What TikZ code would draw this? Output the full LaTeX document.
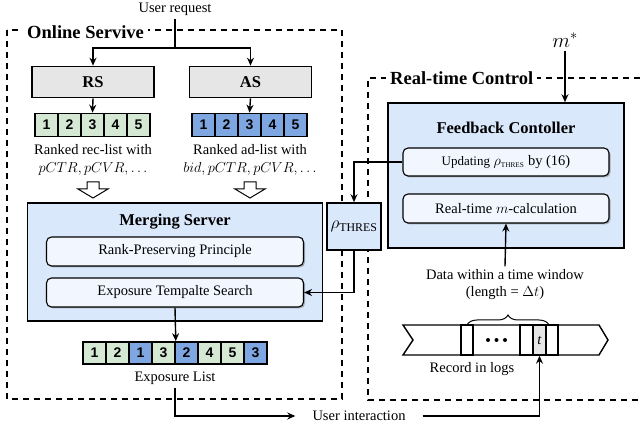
\documentclass[tikz,border=0pt]{standalone}
\usepackage{amsmath}
\usepackage{fontspec}
\setmainfont{Liberation Serif}
\setsansfont{Liberation Sans}
\usetikzlibrary{arrows.meta,positioning,calc,shadows,decorations.pathreplacing}
\definecolor{panelblue}{RGB}{218,232,252}
\definecolor{innerblue}{RGB}{242,247,255}
\definecolor{recgreen}{RGB}{213,232,212}
\definecolor{adblue}{RGB}{126,166,224}
\definecolor{servergray}{RGB}{230,230,230}

\tikzset{
  arr/.style={-{Stealth[length=8pt,width=7pt]}, line width=1.4pt},
  zoneline/.style={line width=1.3pt, dash pattern=on 6pt off 5pt},
  zonetitle/.style={fill=white, inner sep=4pt, font=\fontsize{18.5}{20}\selectfont\bfseries},
  server/.style={draw, line width=1.6pt, fill=servergray, minimum width=122pt, minimum height=31pt, font=\fontsize{16.5}{18}\selectfont\bfseries},
  panel/.style={draw, line width=1.6pt, fill=panelblue},
  subbox/.style={draw, line width=1.1pt, rounded corners=5pt, fill=innerblue, minimum width=257pt, minimum height=29pt, drop shadow={shadow xshift=1.5pt, shadow yshift=-1.5pt, fill=black!55}},
  cell/.style={draw, line width=1.6pt, minimum width=23pt, minimum height=23pt, inner sep=0pt, font=\fontsize{14}{16}\selectfont\sffamily\bfseries},
  boxtitle/.style={font=\fontsize{16.5}{18}\selectfont\bfseries},
}

\begin{document}
\begin{tikzpicture}[x=1pt, y=-1pt, font=\fontsize{14.5}{17}\selectfont]
    \useasboundingbox (0,0) rectangle (640,430);

    % Dashed zones
    \draw[zoneline] (7,30) rectangle (342,399);
    \draw[zoneline] (640,78) -- (368,78) -- (368,400) -- (640,400);
    \node[zonetitle, anchor=west] (ostitle) at (23,32) {Online Servive};
    \node[zonetitle, anchor=west] (rctitle) at (386,78) {Real-time Control};

    % Request and servers
    \node (req) at (175,9) {User request};
    \coordinate (split) at (175,48);
    \node[server] (rs) at (93,82) {RS};
    \node[server] (as) at (250.5,82) {AS};
    \draw[line width=1.4pt] (req.south) -- (split);
    \draw[arr] (split) -| (rs.north);
    \draw[arr] (split) -| (as.north);

    % Ranked lists
    \foreach \i in {1,...,5} {
        \node[cell, fill=recgreen] (r\i) at ({35+23*(\i-0.5)},125) {\i};
        \node[cell, fill=adblue] (a\i) at ({192+23*(\i-0.5)},125) {\i};
    }
    \draw[arr] (rs.south) -- (r3.north);
    \draw[arr] (as.south) -- (a3.north);
    \node[align=center] (reclbl) at (93,160) {Ranked rec-list with\\[1pt]$pCTR, pCVR, \ldots$};
    \node[align=center] (adlbl) at (250,160) {Ranked ad-list with\\[1pt]$bid, pCTR, pCVR, \ldots$};

    % Hollow merge arrows
    \foreach \x in {93,250}
        \draw[line width=1pt, fill=white] (\x-6,182) -- (\x+6,182) -- (\x+6,189) -- (\x+15,189)
            -- (\x,198) -- (\x-15,189) -- (\x-6,189) -- cycle;

    % Merging server
    \node[panel, minimum width=295pt, minimum height=118pt] (ms) at (175,262) {};
    \node[boxtitle] (mstitle) at (175,222) {Merging Server};
    \node[subbox] (rpp) at (175,251.5) {Rank-Preserving Principle};
    \node[subbox] (ets) at (175,292.5) {Exposure Tempalte Search};

    % Exposure list
    \foreach \v/\c [count=\i] in {1/recgreen,2/recgreen,1/adblue,3/recgreen,2/adblue,4/recgreen,5/recgreen,3/adblue}
        \node[cell, fill=\c, minimum height=22pt] (e\i) at ({83+23*(\i-0.5)},353) {\v};
    \draw[arr] (ets.south) -- (e4.north east);
    \node (exlbl) at (175,378) {Exposure List};
    \node[inner xsep=17pt] (uil) at (359,416) {User interaction};
    \draw[arr] (exlbl.south) |- (uil.west);

    % Feedback controller
    \node[font=\fontsize{20}{22}\selectfont] (mstar) at (565,40) {$m^*$};
    \node[panel, minimum width=236pt, minimum height=145pt] (fc) at (506,175.5) {};
    \node[boxtitle] (fctitle) at (506,128) {Feedback Contoller};
    \node[subbox, minimum width=206pt, minimum height=28pt] (upd) at (506,162)
        {{\fontsize{13}{15}\selectfont Updating} $\rho_{\scriptscriptstyle\mathrm{THRES}}$ by (16)};
    \node[subbox, minimum width=206pt] (rtm) at (506,208.5) {Real-time $m$-calculation};
    \draw[arr] (mstar.south) -- (mstar.south |- fc.north);

    % Threshold
    \node[panel, minimum width=54pt, minimum height=47pt, font=\fontsize{17}{19}\selectfont] (rho) at (354,226.5) {$\rho_{\mathrm{THRES}}$};
    \draw[arr] (upd.west) -| (rho.north);
    \draw[arr] (rho.south) |- (ets.east);

    % Logs
    \node[align=center] (datalbl) at (505,285) {Data within a time window\\(length = $\Delta t$)};
    \draw[arr] (datalbl.north) -- (rtm.south);
    \draw[line width=1.4pt, fill=white] (403,325) -- (599,325) -- (608,340) -- (599,355)
        -- (403,355) -- (413,340) -- cycle;
    \foreach \a/\b in {461/473,520/533,546/558}
        \draw[line width=1.4pt] (\a,325) rectangle (\b,355);
    \node[draw, line width=1.4pt, fill=servergray, minimum width=13pt, minimum height=30pt, inner sep=0pt] (tcell) at (539.5,340) {\textit{t}};
    \foreach \x in {488,496.5,505}
        \fill (\x,340) circle (2pt);
    \draw[decorate, decoration={brace, amplitude=10pt}, line width=1pt] (467,325) -- (549,325);
    \node (logslbl) at (472,369) {Record in logs};
    \draw[arr] (uil.east) -| (tcell.south);
\end{tikzpicture}
\end{document}
